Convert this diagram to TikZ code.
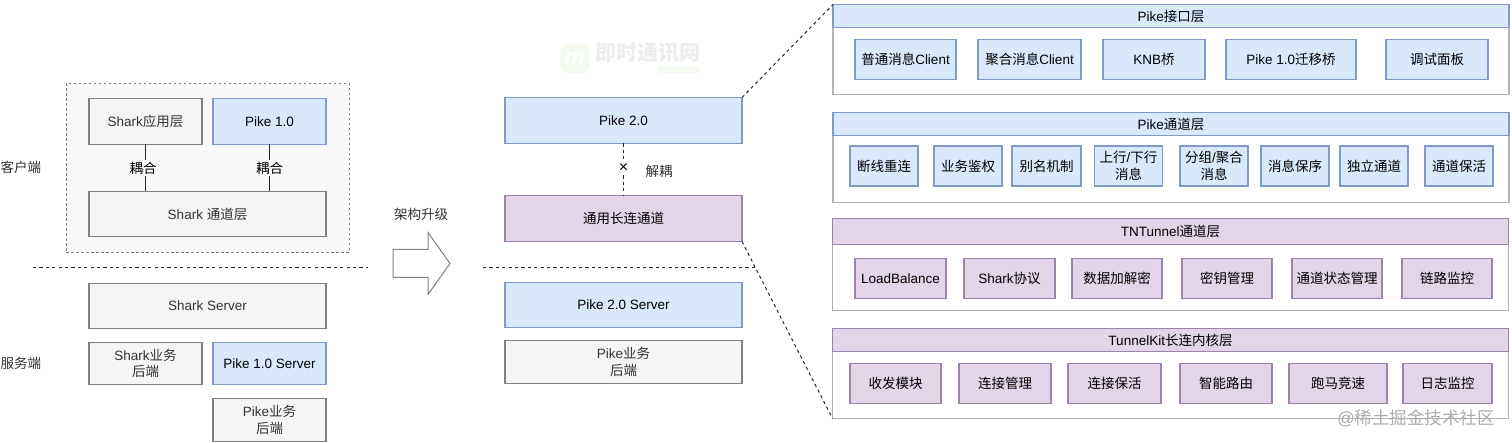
\documentclass[tikz,border=0pt]{standalone}
\usepackage{fontspec}
\setmainfont{Liberation Sans}
\newfontfamily\cjk{Noto Sans CJK SC}
\usetikzlibrary{positioning}
\definecolor{blueFill}{HTML}{DAE8FC}
\definecolor{blueLine}{HTML}{7F9CC8}
\definecolor{purpleFill}{HTML}{E1D5E7}
\definecolor{purpleLine}{HTML}{9C82AC}
\definecolor{grayFill}{HTML}{F5F5F5}
\definecolor{grayLine}{HTML}{808080}
\definecolor{groupFill}{HTML}{F8F8F8}
\definecolor{panelLine}{HTML}{B4B4B4}
\definecolor{textGray}{HTML}{333333}
\definecolor{logoGreen}{HTML}{F5FAF0}

\begin{document}
\begin{tikzpicture}[x=1pt,y=-1pt,
	every node/.style={outer sep=0pt,inner sep=0pt,align=center,font=\fontsize{13.5}{16.5}\selectfont},
	box/.style={draw,line width=1.2pt,anchor=north west,minimum width=#1},
	grayBox/.style={box=#1,fill=grayFill,draw=grayLine,text=textGray},
	blueBox/.style={box=#1,fill=blueFill,draw=blueLine,text=black},
	purpleBox/.style={box=#1,fill=purpleFill,draw=purpleLine,text=black},
	panel/.style={draw=panelLine,line width=1.2pt,fill=white,anchor=north west,minimum width=676pt},
	blueCell/.style={blueBox=#1,minimum height=40pt,anchor=west},
	purpleCell/.style={purpleBox=#1,minimum height=40pt,anchor=west},
	sepLine/.style={dashed,line width=1pt,dash pattern=on 3.2pt off 3.2pt,draw=black!85},
	linkLine/.style={line width=1pt,draw=black!85}]

	\useasboundingbox (0,-0.5) rectangle (1512,442.5);

	\node[draw=grayLine,dashed,line width=0.9pt,dash pattern=on 2.5pt off 2.5pt,fill=groupFill,anchor=north west,minimum width=283pt,minimum height=169pt] (clientGroup) at (66,83) {};
	\node[grayBox=113pt,minimum height=46pt] (sharkApp) at (89,98) {Shark{\cjk 应用层}};
	\node[blueBox=113pt,minimum height=46pt,right=11pt of sharkApp] (pike10) {Pike 1.0};
	\node[grayBox=237pt,minimum height=45pt] (sharkTunnel) at (89,191) {Shark {\cjk 通道层}};

	\draw[linkLine] (sharkApp.south) -- (sharkApp.south |- sharkTunnel.north) node[midway,fill=groupFill,inner sep=2pt,xshift=-2.5pt] (couple1) {\cjk 耦合};
	\draw[linkLine] (pike10.south) -- (pike10.south |- sharkTunnel.north) node[midway,fill=groupFill,inner sep=2pt] (couple2) {\cjk 耦合};

	\node[text=textGray] (clientLabel) at (21,167) {\cjk 客户端};
	\node[text=textGray] (serverLabel) at (21,363) {\cjk 服务端};

	\coordinate (sepA) at (33,267);
	\coordinate (sepB) at (368,267);
	\draw[sepLine] (sepA) -- (sepB);

	\node[grayBox=237pt,minimum height=45pt] (sharkServer) at (89,283) {Shark Server};
	\node[grayBox=113pt,minimum height=42pt] (sharkBiz) at (89,342) {Shark{\cjk 业务}\\{\cjk 后端}};
	\node[blueBox=113pt,minimum height=42pt,right=11pt of sharkBiz] (pike10Server) {Pike 1.0 Server};
	\node[grayBox=113pt,minimum height=43pt] (pikeBizA) at (213,398) {Pike{\cjk 业务}\\{\cjk 后端}};

	\node[text=textGray] (upgrade) at (421,214) {\cjk 架构升级};
	\draw[draw=grayLine,line width=1pt,fill=white] (393,249) -- (428,249) -- (428,232) -- (450,263) -- (428,294) -- (428,277) -- (393,277) -- cycle;

	\node[fill=logoGreen,rounded corners=9pt,minimum width=30pt,minimum height=30pt,text=white,font=\bfseries\itshape\fontsize{22}{22}\selectfont] (imLogo) at (575,58) {m};
	\node[text=black!7,font=\cjk\bfseries\fontsize{21}{21}\selectfont,anchor=west] (imMark) at (595,52) {即时通讯网};
	\node[fill=logoGreen,anchor=west,minimum width=42pt,minimum height=7pt] (imBar) at (658,69) {};

	\node[blueBox=237pt,minimum height=46pt] (pike20) at (505,97) {Pike 2.0};
	\node[purpleBox=237pt,minimum height=46pt] (longLink) at (505,195) {\cjk 通用长连通道};
	\draw[sepLine] (pike20) -- (longLink) node[midway,fill=white,inner sep=1.5pt,yshift=1pt,font=\fontsize{16}{16}\selectfont] (cross) {×};
	\node[text=textGray] (decouple) at (659,171) {\cjk 解耦};

	\coordinate (sepC) at (483,267);
	\coordinate (sepD) at (755,267);
	\draw[sepLine] (sepC) -- (sepD);

	\node[blueBox=237pt,minimum height=45pt] (pike20Server) at (505,282) {Pike 2.0 Server};
	\node[grayBox=237pt,minimum height=43pt] (pikeBizB) at (505,340) {Pike{\cjk 业务}\\{\cjk 后端}};

	\node[panel,minimum height=90pt] (body1) at (833,4) {};
	\node[blueBox=676pt,minimum height=23pt] (head1) at (833,4) {Pike{\cjk 接口层}};
	\node[blueCell=101pt] (c11) at (855,59) {{\cjk 普通消息}Client};
	\node[blueCell=103pt,right=22pt of c11] (c12) {{\cjk 聚合消息}Client};
	\node[blueCell=102pt,right=22pt of c12] (c13) {KNB{\cjk 桥}};
	\node[blueCell=130pt,right=21pt of c13] (c14) {Pike 1.0{\cjk 迁移桥}};
	\node[blueCell=102pt,right=30pt of c14] (c15) {\cjk 调试面板};

	\node[panel,minimum height=90pt] (body2) at (833,112) {};
	\node[blueBox=676pt,minimum height=23pt] (head2) at (833,112) {Pike{\cjk 通道层}};
	\node[blueCell=68pt] (c21) at (850,165.5) {\cjk 断线重连};
	\node[blueCell=68pt,right=16pt of c21] (c22) {\cjk 业务鉴权};
	\node[blueCell=69pt,right=10pt of c22] (c23) {\cjk 别名机制};
	\node[blueCell=68pt,right=13.5pt of c23] (c24) {{\cjk 上行}/{\cjk 下行}\\{\cjk 消息}};
	\node[blueCell=68pt,right=17.5pt of c24] (c25) {{\cjk 分组}/{\cjk 聚合}\\{\cjk 消息}};
	\node[blueCell=68pt,right=13pt of c25] (c26) {\cjk 消息保序};
	\node[blueCell=68pt,right=11pt of c26] (c27) {\cjk 独立通道};
	\node[blueCell=68pt,right=17pt of c27] (c28) {\cjk 通道保活};

	\node[panel,minimum height=92pt] (body3) at (832.5,218) {};
	\node[purpleBox=676pt,minimum height=26pt] (head3) at (832.5,218) {TNTunnel{\cjk 通道层}};
	\node[purpleCell=91pt] (c31) at (855,278) {LoadBalance};
	\node[purpleCell=91pt,right=18pt of c31] (c32) {Shark{\cjk 协议}};
	\node[purpleCell=90pt,right=17pt of c32] (c33) {\cjk 数据加解密};
	\node[purpleCell=90pt,right=20pt of c33] (c34) {\cjk 密钥管理};
	\node[purpleCell=90pt,right=20pt of c34] (c35) {\cjk 通道状态管理};
	\node[purpleCell=90pt,right=20pt of c35] (c36) {\cjk 链路监控};

	\node[panel,minimum height=90pt] (body4) at (832.5,328) {};
	\node[purpleBox=676pt,minimum height=23pt] (head4) at (832.5,328) {TunnelKit{\cjk 长连内核层}};
	\node[purpleCell=91pt] (c41) at (850,383) {\cjk 收发模块};
	\node[purpleCell=92pt,right=18pt of c41] (c42) {\cjk 连接管理};
	\node[purpleCell=93pt,right=17pt of c42] (c43) {\cjk 连接保活};
	\node[purpleCell=92pt,right=19pt of c43] (c44) {\cjk 智能路由};
	\node[purpleCell=98pt,right=17pt of c44] (c45) {\cjk 跑马竞速};
	\node[purpleCell=89pt,right=16pt of c45] (c46) {\cjk 日志监控};

	\draw[sepLine] (pike20.north east) -- (body1.north west);
	\draw[sepLine] (longLink.south east) -- (body4.south west);

	\node[text=black!32,font=\fontsize{17.5}{18}\selectfont] (juejinMark) at (1416,418) {@{\cjk 稀土掘金技术社区}};

\end{tikzpicture}
\end{document}
